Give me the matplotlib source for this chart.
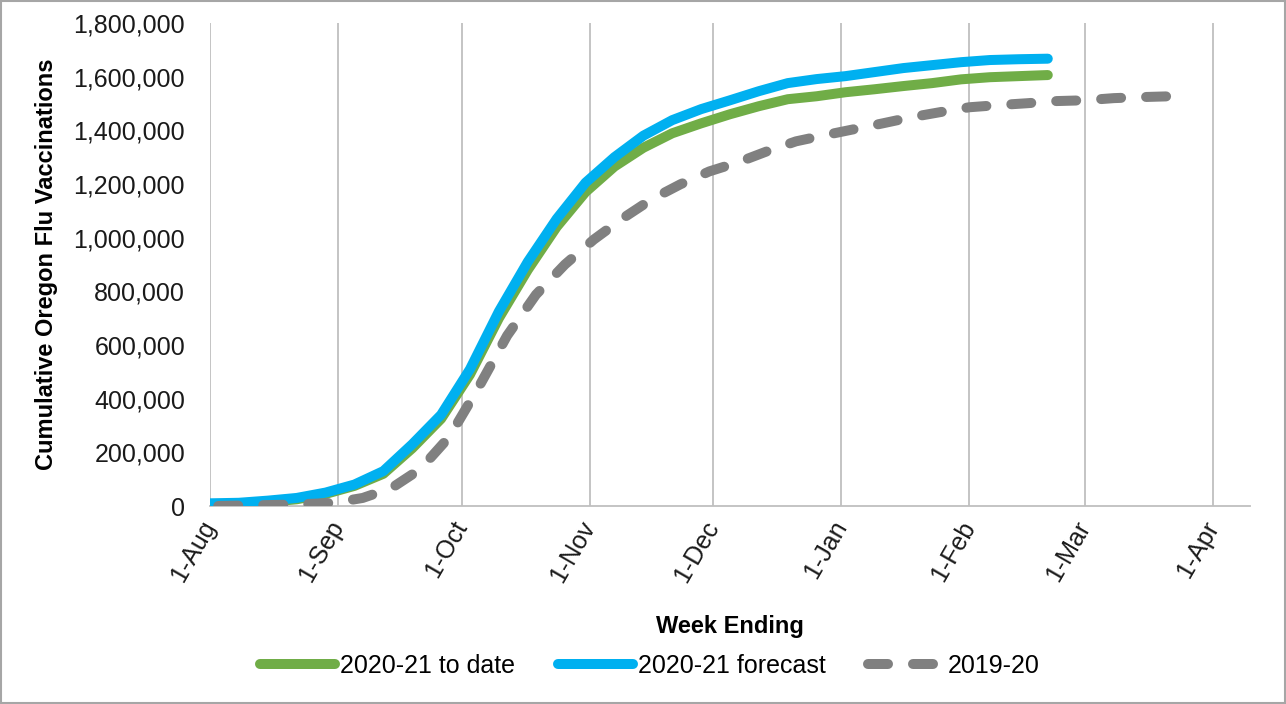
import numpy as np
import pandas as pd
import matplotlib
matplotlib.use("Agg")
import matplotlib.pyplot as plt
import matplotlib.dates as mdates
from matplotlib.patches import Rectangle
from matplotlib.ticker import FuncFormatter

plt.rcParams['font.family'] = ['Liberation Sans', 'DejaVu Sans']

# weekly cumulative vaccinations
to_date = [5000, 8000, 15000, 25000, 45000, 75000, 120000, 215000, 325000, 490000,
           700000, 880000, 1040000, 1170000, 1265000, 1335000, 1389000, 1426000, 1460000, 1490000,
           1516000, 1527000, 1542000, 1553000, 1565000, 1576000, 1590000, 1598000, 1602000, 1606000]
forecast = [10000, 12000, 20000, 30000, 50000, 80000, 130000, 230000, 340000, 510000,
            725000, 910000, 1070000, 1205000, 1300000, 1380000, 1438000, 1479000, 1512000, 1546000,
            1576000, 1591000, 1602000, 1617000, 1632000, 1643000, 1654000, 1662000, 1665000, 1667000]
prior = [0, 2000, 4000, 7000, 12000, 30000, 67000, 138000, 258000, 440000,
         635000, 788000, 900000, 993000, 1072000, 1143000, 1199000, 1247000, 1281000, 1322000,
         1359000, 1382000, 1404000, 1426000, 1449000, 1468000, 1486000, 1494000, 1501000, 1509000,
         1512000, 1520000, 1524000, 1527000]

weeks_2021 = pd.date_range('2020-08-01', periods=len(to_date), freq='7D')
weeks_1920 = pd.date_range('2020-08-03', periods=len(prior), freq='7D')

labels = ['2020-21 to date', '2020-21 forecast', '2019-20']
colors = ['#70AD47', '#00B0F0', '#808080']

fig = plt.figure(figsize=(12.86, 7.04), dpi=100)
ax = fig.add_axes([210 / 1286, 1 - 506 / 704, (1250 - 210) / 1286, (506 - 23) / 704])

ax.plot(weeks_2021, to_date, color=colors[0], lw=7.2, solid_capstyle='round', label=labels[0], zorder=3)
ax.plot(weeks_2021, forecast, color=colors[1], lw=7.2, solid_capstyle='round', label=labels[1], zorder=4)
ax.plot(weeks_1920, prior, color=colors[2], lw=7.2, dashes=(2, 2.5), dash_capstyle='round',
        label=labels[2], zorder=5)

ax.set_xlim(pd.Timestamp('2020-08-01'), pd.Timestamp('2021-04-10'))
ax.set_ylim(0, 1800000)
ax.set_yticks(np.arange(0, 1800001, 200000))
ax.yaxis.set_major_formatter(FuncFormatter(lambda v, p: f'{v:,.0f}'))
ax.xaxis.set_major_locator(mdates.MonthLocator())
ax.xaxis.set_major_formatter(FuncFormatter(lambda v, p: f"{mdates.num2date(v).day}-{mdates.num2date(v):%b}"))

ax.grid(axis='x', color='#BFBFBF', lw=1.3)
ax.set_axisbelow(True)
for s in ['top', 'right', 'left']:
    ax.spines[s].set_visible(False)
ax.spines['bottom'].set_color('#BFBFBF')
ax.spines['bottom'].set_linewidth(1.3)

ax.tick_params(axis='y', length=0, pad=18, labelsize=18, labelcolor='#1a1a1a')
ax.tick_params(axis='x', length=0, pad=12, labelsize=18, labelcolor='#1a1a1a')
for lbl in ax.get_xticklabels():
    lbl.set_rotation(60)
    lbl.set_ha('right')
    lbl.set_va('center')
    lbl.set_rotation_mode('anchor')

fig.text(730 / 1286, 1 - 627 / 704, 'Week Ending', ha='center', va='center',
         fontsize=17, fontweight='bold')
fig.text(47 / 1286, 1 - 264 / 704, 'Cumulative Oregon Flu Vaccinations', ha='center', va='center',
         rotation=90, fontsize=17, fontweight='bold')

fig.legend(*ax.get_legend_handles_labels(), ncol=3, loc='center',
           bbox_to_anchor=(650 / 1286, 1 - 666 / 704), frameon=False, fontsize=18,
           handlelength=3, handletextpad=0.2, columnspacing=1.7)

fig.patches.append(Rectangle((0.001, 0.001), 0.998, 0.997, transform=fig.transFigure,
                             fill=False, edgecolor='#A6A6A6', lw=1.5))

fig.savefig('out.png', dpi=100)
